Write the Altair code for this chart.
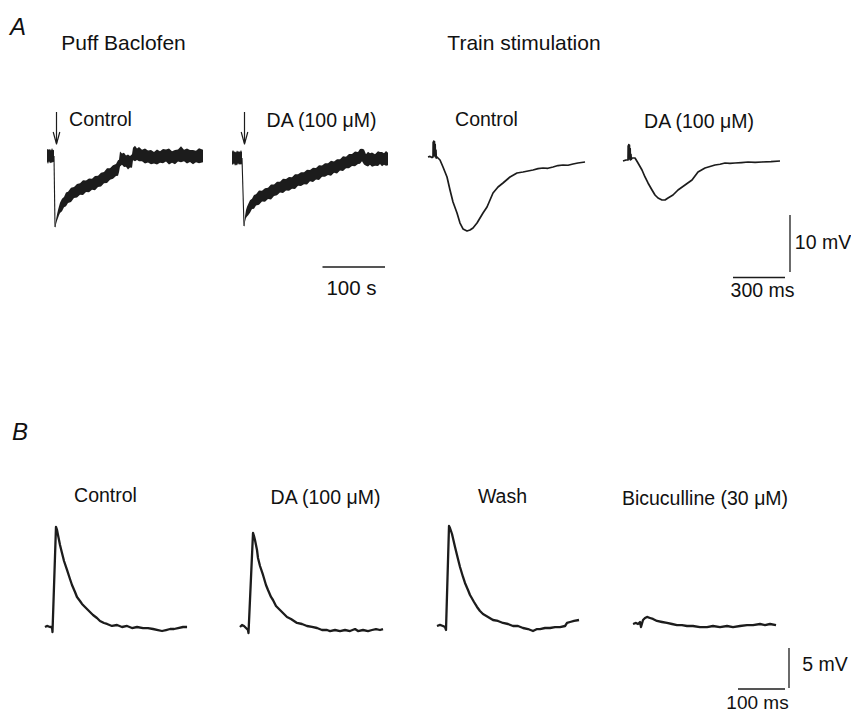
import altair as alt
import pandas as pd

INK = "#1c1c1c"
FONT = "Liberation Sans"

# ---------------- Panel A, puff baclofen: time (s), potential (mV), noise half-width (mV)
bac_ctrl_pre_t = [-11.2, -9.6, -8.0, -6.4, -4.8, -3.2, -1.6, 0.0]
bac_ctrl_pre_v = [0.1, -0.1, 0.1, 0.0, -0.1, 0.1, 0.0, 0.0]
bac_ctrl_pre_n = [1.1, 1.3, 1.0, 1.25, 1.05, 1.3, 1.0, 1.1]
bac_ctrl_drop_t = [0.0, 1.6]
bac_ctrl_drop_v = [0.0, -12.45]
bac_ctrl_t = [1.6, 3.2, 4.8, 6.4, 8.0, 9.6, 12.8, 16.0, 19.2, 22.4,
              27.2, 32.0, 36.8, 41.6, 46.4, 51.2, 56.0, 60.8, 65.6, 70.4,
              75.2, 80.0, 84.8, 89.6, 94.4, 99.2, 102.4, 104.0, 105.6, 108.8,
              112.0, 115.2, 118.4, 121.6, 124.8, 126.4, 129.6, 132.8, 136.0, 140.8,
              145.6, 150.4, 155.2, 160.0, 164.8, 169.6, 174.4, 179.2, 184.0, 188.8,
              193.6, 198.4, 203.2, 208.0, 212.8, 217.6, 222.4, 227.2, 232.0, 238.4]
bac_ctrl_v = [-12.45, -11.58, -10.8, -10.17, -9.6, -9.12, -8.6, -8.1, -7.6, -7.25,
              -6.8, -6.4, -6.1, -5.79, -5.55, -5.3, -5.15, -4.95, -4.74, -4.45,
              -4.15, -3.8, -3.45, -3.15, -2.81, -2.45, -2.1, -1.75, -0.53, -0.55,
              -0.70, -0.9, -1.05, -1.0, -0.88, 0.35, 0.45, 0.3, 0.35, 0.1,
              0.0, -0.1, -0.18, -0.3, -0.18, -0.18, 0.0, 0.1, -0.1, -0.18,
              -0.18, 0.1, 0.3, 0.1, 0.0, 0.0, -0.18, -0.1, 0.05, 0.0]
bac_ctrl_n = [0.2, 0.4, 0.55, 0.7, 0.8, 0.9, 1.1, 0.9, 1.2, 1.0,
              1.25, 0.95, 1.2, 1.0, 1.3, 1.0, 1.2, 0.95, 1.25, 1.0,
              1.2, 1.0, 1.3, 1.0, 1.2, 1.05, 1.35, 1.1, 1.3, 1.0,
              1.25, 1.0, 1.3, 1.0, 1.2, 1.1, 1.35, 1.0, 1.25, 1.0,
              1.3, 1.05, 1.25, 1.0, 1.3, 1.0, 1.25, 1.05, 1.4, 1.0,
              1.25, 1.05, 1.4, 1.0, 1.3, 1.05, 1.25, 1.0, 1.3, 1.1]

bac_da_pre_t = [-16.0, -14.4, -12.8, -11.2, -9.6, -8.0, -6.4, -4.8, -3.2, -1.6, 0.0]
bac_da_pre_v = [0.0, 0.1, 0.1, -0.1, -0.1, 0.0, 0.1, 0.0, 0.0, 0.1, 0.0]
bac_da_pre_n = [1.1, 1.3, 1.0, 1.25, 1.05, 1.3, 1.0, 1.2, 1.05, 1.3, 1.0]
bac_da_drop_t = [0.0, 3.2]
bac_da_drop_v = [0.0, -11.93]
bac_da_t = [3.2, 4.8, 6.4, 8.0, 9.6, 12.8, 16.0, 19.2, 22.4, 27.2,
            32.0, 36.8, 41.6, 46.4, 51.2, 56.0, 60.8, 65.6, 70.4, 75.2,
            80.0, 84.8, 89.6, 94.4, 99.2, 104.0, 108.8, 113.6, 118.4, 123.2,
            128.0, 132.8, 137.6, 142.4, 147.2, 152.0, 156.8, 161.6, 166.4, 171.2,
            176.0, 180.8, 185.6, 188.8, 192.0, 195.2, 198.4, 201.6, 204.8, 208.0,
            212.8, 217.6, 220.8, 224.0, 227.2, 230.4, 233.6]
bac_da_v = [-11.93, -10.70, -9.82, -9.4, -9.12, -8.5, -8.05, -7.7, -7.35, -6.95,
            -6.7, -6.49, -6.2, -5.96, -5.65, -5.35, -5.1, -4.9, -4.7, -4.55,
            -4.39, -4.15, -3.86, -3.7, -3.55, -3.35, -3.1, -2.95, -2.75, -2.55,
            -2.3, -2.10, -1.95, -1.8, -1.6, -1.45, -1.2, -1.0, -0.8, -0.55,
            -0.35, -0.15, 0.0, 0.3, 0.53, 0.18, -0.35, -0.2, -0.18, -0.3,
            -0.35, -0.1, 0.0, -0.2, -0.18, -0.05, -0.18]
bac_da_n = [0.2, 0.5, 0.7, 0.85, 0.95, 1.1, 0.9, 1.2, 1.0, 1.25,
            0.95, 1.2, 1.0, 1.3, 1.0, 1.2, 0.95, 1.25, 1.0, 1.2,
            1.0, 1.3, 1.0, 1.2, 1.05, 1.3, 1.0, 1.25, 1.0, 1.3,
            1.0, 1.2, 1.05, 1.3, 1.0, 1.25, 1.0, 1.3, 1.0, 1.25,
            1.05, 1.3, 1.05, 1.3, 1.1, 1.3, 1.0, 1.3, 1.0, 1.25,
            1.0, 1.3, 1.05, 1.25, 1.0, 1.3, 1.1]

# ---------------- Panel A, train stimulation: time (ms), potential (mV)
train_ctrl_t = [-28.8, -17.3, -5.8, 0.0, 1.0, 2.5, 4.5, 6.0, 8.5, 10.0, 12.5, 14.0, 17.0, 19.0, 23.0,
                40.4, 57.7, 80.8, 98.1, 115.4, 138.5, 155.8, 173.1, 196.2, 213.5,
                230.8, 253.9, 271.2, 288.5, 311.6, 328.9, 346.2, 375.1, 403.9, 444.3,
                484.7, 519.3, 548.0, 577.0, 606.0, 634.7, 663.0, 692.4, 721.0, 750.1,
                779.0, 807.8, 836.0, 877.0]
train_ctrl_v = [0.0, 0.1, -0.1, 0.0, 2.6, 0.3, 2.8, 0.3, 2.7, 0.2, 2.2, 0.0, 1.2, -0.2, 0.0,
                -0.53, -1.75, -3.51, -5.79, -7.89, -9.82, -11.58, -12.63, -12.98, -12.81,
                -12.46, -11.58, -10.70, -9.82, -8.77, -7.54, -6.32, -5.26, -4.56, -3.51,
                -2.81, -2.63, -2.45, -2.28, -2.05, -1.93, -1.98, -1.75, -1.50, -1.40,
                -1.45, -1.23, -1.05, -0.88]

train_da_t = [-28.8, -11.5, 0.0, 1.0, 2.5, 4.5, 6.0, 8.5, 10.0, 12.5, 14.0, 17.0, 19.0, 23.0,
              40.4, 57.7, 80.8, 98.1, 115.4, 138.5, 155.8, 173.1, 196.2, 213.5,
              230.8, 259.6, 288.5, 328.9, 369.3, 403.9, 444.3, 502.0, 531.0, 559.7,
              588.0, 617.4, 655.0, 692.4, 733.0, 773.2, 825.0, 877.0]
train_da_v = [-0.18, 0.0, 0.0, 2.5, 0.3, 2.7, 0.2, 2.6, 0.2, 2.0, 0.0, 1.0, 0.1, 0.35,
              0.35, -0.53, -1.75, -2.98, -4.03, -5.26, -6.14, -6.67, -7.02, -7.02,
              -6.67, -6.14, -5.26, -4.39, -3.51, -2.10, -1.40, -0.88, -0.75, -0.53,
              -0.60, -0.53, -0.45, -0.35, -0.40, -0.35, -0.30, -0.18]

# ---------------- Panel B: time (ms), potential (mV)
b_ctrl_t = [-16.0, -11.7, -5.3, -1.1, 0.0, 7.4, 9.6, 11.7, 16.0, 20.2, 24.5, 30.9, 37.2, 41.5,
            47.9, 52.1, 58.5, 62.8, 69.1, 75.5, 86.2, 94.6, 101.1, 109.6, 116.0, 126.6,
            137.3, 147.9, 158.6, 169.2, 179.9, 192.6, 203.2, 213.9, 224.5, 233.0, 241.6,
            250.1, 258.6, 267.1, 277.8, 286.3]
b_ctrl_v = [0.0, 0.13, 0.0, 0.0, -0.63, 12.5, 12.13, 11.5, 10.25, 9.25, 8.25, 7.13, 6.0, 5.25,
            4.38, 3.75, 3.25, 2.88, 2.5, 2.13, 1.5, 1.13, 0.75, 0.5, 0.38, 0.13,
            0.25, 0.0, 0.13, -0.13, 0.0, -0.13, -0.13, -0.25, -0.38, -0.5, -0.38,
            -0.25, -0.25, -0.13, 0.0, 0.0]

b_da_t = [-18.1, -13.8, -9.6, -5.3, -1.1, 0.0, 9.6, 11.7, 13.8, 18.1, 20.2, 24.5, 30.9, 37.2,
          41.5, 47.9, 52.1, 58.5, 67.0, 75.5, 81.9, 90.4, 103.2, 113.8, 124.5, 135.1,
          145.8, 156.4, 167.1, 173.4, 184.1, 194.7, 205.4, 216.0, 226.7, 233.0, 243.7,
          254.3, 262.8, 271.3, 279.8, 286.2]
b_da_v = [0.13, 0.38, 0.25, 0.0, -0.25, -0.63, 11.88, 11.5, 11.0, 9.75, 8.75, 7.75, 6.63, 5.38,
          4.75, 3.88, 3.5, 2.75, 2.25, 1.75, 1.38, 1.13, 0.63, 0.5, 0.25, 0.13,
          0.0, -0.25, -0.25, -0.38, -0.25, -0.38, -0.25, -0.38, -0.13, -0.38, -0.25,
          -0.38, -0.25, -0.13, -0.25, -0.13]

b_wash_t = [-19.2, -12.8, -6.4, -2.1, 0.0, 6.4, 8.5, 12.8, 19.2, 25.5, 29.8, 36.2, 40.4, 46.8,
            51.1, 59.6, 66.0, 72.3, 78.7, 89.4, 100.0, 110.6, 121.3, 131.9, 142.6, 153.2,
            163.9, 174.5, 185.1, 193.7, 200.0, 210.7, 221.3, 232.0, 242.6, 253.3, 257.5,
            263.9, 272.4, 283.0]
b_wash_v = [0.0, 0.13, 0.0, -0.13, -0.5, 12.5, 12.25, 11.5, 9.88, 8.38, 7.38, 6.13, 5.38, 4.5,
            3.88, 3.0, 2.38, 1.88, 1.5, 1.13, 0.75, 0.63, 0.38, 0.25, 0.0, 0.0,
            -0.25, -0.38, -0.63, -0.38, -0.38, -0.25, -0.25, -0.13, -0.13, 0.0, 0.38,
            0.5, 0.63, 0.75]

b_bic_t = [-17.0, -10.6, -6.4, -2.1, 0.0, 4.3, 8.5, 12.8, 19.2, 25.5, 34.0, 44.7, 55.3, 66.0,
           76.6, 87.2, 97.9, 110.6, 125.5, 140.4, 153.2, 168.1, 183.0, 195.7, 210.6, 225.5,
           238.3, 253.2, 263.8, 274.5, 287.3]
b_bic_v = [0.0, 0.13, 0.0, 0.25, -0.38, 0.5, 0.75, 0.88, 0.75, 0.63, 0.38, 0.25, 0.13, 0.0,
           -0.13, -0.13, -0.25, -0.25, -0.38, -0.38, -0.25, -0.38, -0.25, -0.38, -0.25, -0.13,
           -0.13, 0.0, -0.13, 0.0, -0.13]

# scale-bar values
bar_time_bac = 100.0    # s
bar_volt_a = 10.0       # mV
bar_time_train = 300.0  # ms
bar_volt_b = 5.0        # mV
bar_time_b = 100.0      # ms

# ---------------- layout (page pixels): origin of t=0 / baseline and px-per-unit
SX_BAC, SY_A = 0.625, 5.7
SX_TR = 52.0 / 300.0
SX_B, SY_B = 0.47, 8.0
L = {
    "bac_ctrl": (54.0, 156.0, SX_BAC, SY_A),
    "bac_da": (242.0, 158.0, SX_BAC, SY_A),
    "tr_ctrl": (433.0, 157.0, SX_TR, SY_A),
    "tr_da": (628.0, 160.0, SX_TR, SY_A),
    "b_ctrl": (52.5, 627.0, SX_B, SY_B),
    "b_da": (248.5, 628.0, SX_B, SY_B),
    "b_wash": (446.0, 626.0, SX_B, SY_B),
    "b_bic": (641.0, 624.0, SX_B, SY_B),
}


def line_df(name, lay, t, v, sw):
    x0, y0, sx, sy = L[lay]
    return pd.DataFrame({"trace": name, "i": list(range(len(t))),
                         "X": [x0 + a * sx for a in t],
                         "Y": [y0 - b * sy for b in v], "sw": sw})


def band_df(name, lay, t, v, n):
    x0, y0, sx, sy = L[lay]
    return pd.DataFrame({"seg": name,
                         "X": [x0 + a * sx for a in t],
                         "Yu": [y0 - (b + e) * sy for b, e in zip(v, n)],
                         "Yl": [y0 - (b - e) * sy for b, e in zip(v, n)]})


lines = pd.concat([
    line_df("bc_drop", "bac_ctrl", bac_ctrl_drop_t, bac_ctrl_drop_v, 1.1),
    line_df("bd_drop", "bac_da", bac_da_drop_t, bac_da_drop_v, 1.1),
    line_df("tr_ctrl", "tr_ctrl", train_ctrl_t, train_ctrl_v, 1.7),
    line_df("tr_da", "tr_da", train_da_t, train_da_v, 1.7),
    line_df("b_ctrl", "b_ctrl", b_ctrl_t, b_ctrl_v, 2.3),
    line_df("b_da", "b_da", b_da_t, b_da_v, 2.3),
    line_df("b_wash", "b_wash", b_wash_t, b_wash_v, 2.3),
    line_df("b_bic", "b_bic", b_bic_t, b_bic_v, 2.3),
], ignore_index=True)

# arrow heads above the puff times
arrow_rows = []
for name, lay in [("ah_c", "bac_ctrl"), ("ah_d", "bac_da")]:
    ax = L[lay][0] + 2.5
    for k, (dx, yy) in enumerate([(-3.3, 132.0), (0.0, 144.0), (3.3, 132.0)]):
        arrow_rows.append({"trace": name, "i": k, "X": ax + dx, "Y": yy, "sw": 1.2})
lines = pd.concat([lines, pd.DataFrame(arrow_rows)], ignore_index=True)

bands = pd.concat([
    band_df("bc_pre", "bac_ctrl", bac_ctrl_pre_t, bac_ctrl_pre_v, bac_ctrl_pre_n),
    band_df("bc_rec", "bac_ctrl", bac_ctrl_t, bac_ctrl_v, bac_ctrl_n),
    band_df("bd_pre", "bac_da", bac_da_pre_t, bac_da_pre_v, bac_da_pre_n),
    band_df("bd_rec", "bac_da", bac_da_t, bac_da_v, bac_da_n),
], ignore_index=True)

rules = pd.DataFrame([
    # arrow shafts
    {"X": L["bac_ctrl"][0] + 2.5, "X2": L["bac_ctrl"][0] + 2.5, "Y": 112.0, "Y2": 143.0, "sw": 1.2},
    {"X": L["bac_da"][0] + 2.5, "X2": L["bac_da"][0] + 2.5, "Y": 112.0, "Y2": 143.0, "sw": 1.2},
    # 100 s
    {"X": 322.5, "X2": 322.5 + bar_time_bac * SX_BAC, "Y": 267.0, "Y2": 267.0, "sw": 1.3},
    # 10 mV
    {"X": 790.0, "X2": 790.0, "Y": 272.0 - bar_volt_a * SY_A, "Y2": 272.0, "sw": 1.3},
    # 300 ms
    {"X": 733.0, "X2": 733.0 + bar_time_train * SX_TR, "Y": 277.5, "Y2": 277.5, "sw": 1.3},
    # 5 mV
    {"X": 789.0, "X2": 789.0, "Y": 688.0 - bar_volt_b * SY_B, "Y2": 688.0, "sw": 1.3},
    # 100 ms
    {"X": 738.0, "X2": 738.0 + bar_time_b * SX_B, "Y": 689.0, "Y2": 689.0, "sw": 1.3},
])

labels = pd.DataFrame([
    {"txt": "Puff Baclofen", "X": 123.5, "Y": 50.0, "fs": 21},
    {"txt": "Train stimulation", "X": 524.0, "Y": 50.0, "fs": 21},
    {"txt": "Control", "X": 100.5, "Y": 126.0, "fs": 19.5},
    {"txt": "DA (100 \u03bcM)", "X": 321.5, "Y": 127.0, "fs": 19.5},
    {"txt": "Control", "X": 486.5, "Y": 126.0, "fs": 19.5},
    {"txt": "DA (100 \u03bcM)", "X": 699.0, "Y": 128.0, "fs": 19.5},
    {"txt": "100 s", "X": 351.5, "Y": 295.0, "fs": 20.5},
    {"txt": "10 mV", "X": 823.0, "Y": 249.0, "fs": 19.5},
    {"txt": "300 ms", "X": 762.5, "Y": 297.0, "fs": 19.5},
    {"txt": "Control", "X": 105.5, "Y": 502.0, "fs": 19.5},
    {"txt": "DA (100 \u03bcM)", "X": 325.5, "Y": 504.0, "fs": 19.5},
    {"txt": "Wash", "X": 502.5, "Y": 503.0, "fs": 19.5},
    {"txt": "Bicuculline (30 \u03bcM)", "X": 705.0, "Y": 505.0, "fs": 19.5},
    {"txt": "5 mV", "X": 825.0, "Y": 671.0, "fs": 19.5},
    {"txt": "100 ms", "X": 757.5, "Y": 709.0, "fs": 19},
])
panel_letters = pd.DataFrame([
    {"txt": "A", "X": 10.0, "Y": 35.0},
    {"txt": "B", "X": 12.0, "Y": 440.0},
])

xs = alt.Scale(domain=[8, 851], nice=False, zero=False)
ys = alt.Scale(domain=[8, 714], reverse=True, nice=False, zero=False)

band_layer = alt.Chart(bands).mark_area(color=INK, opacity=1, interpolate="linear").encode(
    x=alt.X("X:Q", scale=xs, axis=None),
    y=alt.Y("Yu:Q", scale=ys, axis=None, stack=None),
    y2="Yl:Q",
    detail="seg:N",
)

line_layer = alt.Chart(lines).mark_line(color=INK, strokeJoin="round", strokeCap="butt").encode(
    x=alt.X("X:Q", scale=xs, axis=None),
    y=alt.Y("Y:Q", scale=ys, axis=None),
    detail="trace:N",
    order="i:Q",
    strokeWidth=alt.StrokeWidth("sw:Q", scale=None),
)

rule_layer = alt.Chart(rules).mark_rule(color=INK).encode(
    x=alt.X("X:Q", scale=xs, axis=None),
    x2="X2:Q",
    y=alt.Y("Y:Q", scale=ys, axis=None),
    y2="Y2:Q",
    strokeWidth=alt.StrokeWidth("sw:Q", scale=None),
)

text_layer = alt.Chart(labels).mark_text(
    font=FONT, color="#111111", align="center", baseline="alphabetic"
).encode(
    x=alt.X("X:Q", scale=xs, axis=None),
    y=alt.Y("Y:Q", scale=ys, axis=None),
    text="txt:N",
    size=alt.Size("fs:Q", scale=None),
)

letter_layer = alt.Chart(panel_letters).mark_text(
    font=FONT, color="#111111", align="left", baseline="alphabetic",
    fontStyle="italic", fontSize=24
).encode(
    x=alt.X("X:Q", scale=xs, axis=None),
    y=alt.Y("Y:Q", scale=ys, axis=None),
    text="txt:N",
)

chart = alt.layer(band_layer, line_layer, rule_layer, text_layer, letter_layer).properties(
    width=843, height=706,
    autosize=alt.AutoSizeParams(type="none"),
    padding=0,
    background="white",
).configure_view(stroke=None)

chart.save("out.html", embed_options={"renderer": "svg", "actions": False})
